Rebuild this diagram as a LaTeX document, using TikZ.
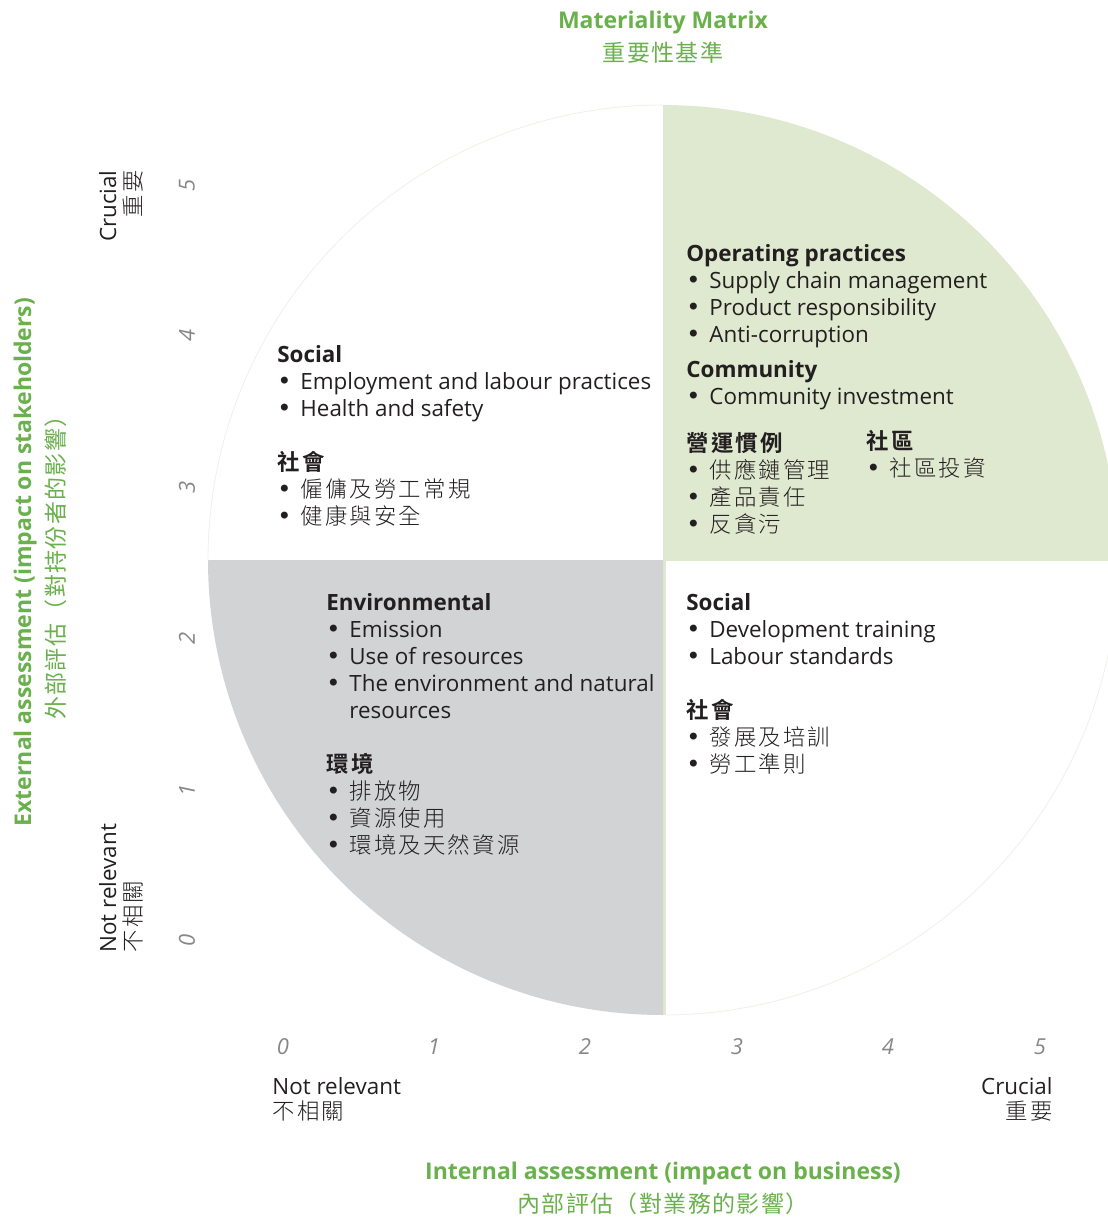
\documentclass[tikz,border=0pt]{standalone}
\usepackage{fontspec}
\setmainfont{Open Sans}
\newfontfamily\cjk{Noto Sans CJK TC Light}[LetterSpace=10, BoldFont={Noto Sans CJK TC Bold}]
\newfontfamily\cjktitle{Noto Sans CJK TC}[LetterSpace=6]
\newfontfamily\bulletfont{DejaVu Sans}
\usepackage{tikz}
\usetikzlibrary{positioning}
\definecolor{matgreen}{RGB}{106,176,76}
\definecolor{lightgreen}{RGB}{222,233,207}
\definecolor{quadgrey}{RGB}{209,211,212}
\definecolor{faintline}{RGB}{238,240,233}
\definecolor{txt}{RGB}{35,31,32}
\definecolor{numgrey}{RGB}{135,135,135}
\newcommand{\itm}[1]{\makebox[11.5pt][l]{\bulletfont\fontsize{12}{10}\selectfont •}{#1}}
\tikzset{
  block/.style={anchor=north west, align=left, inner sep=0pt, text=txt,
    font=\fontsize{11.2}{13.5}\selectfont},
  axisnum/.style={inner sep=0pt, text=numgrey, font=\fontsize{11}{12}\selectfont\itshape},
  ends/.style={inner sep=0pt, text=txt, font=\fontsize{11.2}{12.5}\selectfont},
  greentitle/.style={inner sep=0pt, align=center, text=matgreen,
    font=\fontsize{11.5}{16.5}\selectfont\bfseries},
}

\begin{document}
\begin{tikzpicture}[x=0.5pt,y=-0.5pt]
    \useasboundingbox (0,0) rectangle (1108,1217);
    \coordinate (o) at (663,560);

    % quadrants
    \begin{scope}
      \clip (663,105) rectangle (1108,560);
      \fill[lightgreen] (o) circle[radius=455];
    \end{scope}
    \fill[lightgreen] (663,560) rectangle (666,1015);
    \begin{scope}
      \clip (207,560) rectangle (663,1015);
      \fill[quadgrey] (o) circle[radius=455];
    \end{scope}
    \begin{scope}
      \clip (200,100) rectangle (663,560);
      \draw[faintline, line width=0.4pt] (o) circle[radius=455];
    \end{scope}
    \begin{scope}
      \clip (666,560) rectangle (1108,1020);
      \draw[faintline, line width=0.4pt] (o) circle[radius=455];
    \end{scope}

    % titles
    \node[greentitle] at (663,37) (title){Materiality Matrix\\{\cjktitle\mdseries 重要性基準}};
    \node[greentitle] at (663,1188) (xtitle){Internal assessment (impact on business)\\{\cjktitle\mdseries 內部評估（對業務的影響）}};
    \node[greentitle, rotate=90] at (40,562) (ytitle){External assessment (impact on stakeholders)\\{\cjktitle\mdseries 外部評估（對持份者的影響）}};

    % quadrant texts
    \node[block] at (277,345) (soc1){\textbf{Social}\\
      \itm{Employment and labour practices}\\
      \itm{Health and safety}\\[13.5pt]
      {\cjk\bfseries 社會}\\
      \itm{\cjk 僱傭及勞工常規}\\
      \itm{\cjk 健康與安全}};

    \node[block] at (686,244) (op){\textbf{Operating practices}\\
      \itm{Supply chain management}\\
      \itm{Product responsibility}\\
      \itm{Anti-corruption}\\[4pt]
      \textbf{Community}\\
      \itm{Community investment}};
    \node[block] at (686,432) (opzh){{\cjk\bfseries 營運慣例}\\
      \itm{\cjk 供應鏈管理}\\
      \itm{\cjk 產品責任}\\
      \itm{\cjk 反貪污}};
    \node[block] at (866,430) (comzh){{\cjk\bfseries 社區}\\
      \itm{\cjk 社區投資}};

    \node[block] at (326,593) (env){\textbf{Environmental}\\
      \itm{Emission}\\
      \itm{Use of resources}\\
      \itm{The environment and natural}\\
      \hspace*{11.5pt}resources\\[13.5pt]
      {\cjk\bfseries 環境}\\
      \itm{\cjk 排放物}\\
      \itm{\cjk 資源使用}\\
      \itm{\cjk 環境及天然資源}};

    \node[block] at (686,593) (soc2){\textbf{Social}\\
      \itm{Development training}\\
      \itm{Labour standards}\\[13.5pt]
      {\cjk\bfseries 社會}\\
      \itm{\cjk 發展及培訓}\\
      \itm{\cjk 勞工準則}};

    % vertical axis
    \node[axisnum, rotate=90] at (187,940) (y0){0};
    \node[axisnum, rotate=90] at (187,790) (y1){1};
    \node[axisnum, rotate=90] at (187,638) (y2){2};
    \node[axisnum, rotate=90] at (187,487) (y3){3};
    \node[axisnum, rotate=90] at (187,335) (y4){4};
    \node[axisnum, rotate=90] at (187,185) (y5){5};
    \node[ends, rotate=90, anchor=east, align=right] at (121,170) (ytop){Crucial\\{\cjk 重要}};
    \node[ends, rotate=90, anchor=west, align=left] at (121,953) (ybot){Not relevant\\{\cjk 不相關}};

    % horizontal axis
    \node[axisnum] at (283,1047) (x0){0};
    \node[axisnum] at (434,1047) (x1){1};
    \node[axisnum] at (585,1047) (x2){2};
    \node[axisnum] at (737,1047) (x3){3};
    \node[axisnum] at (888,1047) (x4){4};
    \node[axisnum] at (1040,1047) (x5){5};
    \node[ends, anchor=north west, align=left] at (272,1077) (xleft){Not relevant\\{\cjk 不相關}};
    \node[ends, anchor=north east, align=right] at (1053,1077) (xright){Crucial\\{\cjk 重要}};
\end{tikzpicture}
\end{document}
